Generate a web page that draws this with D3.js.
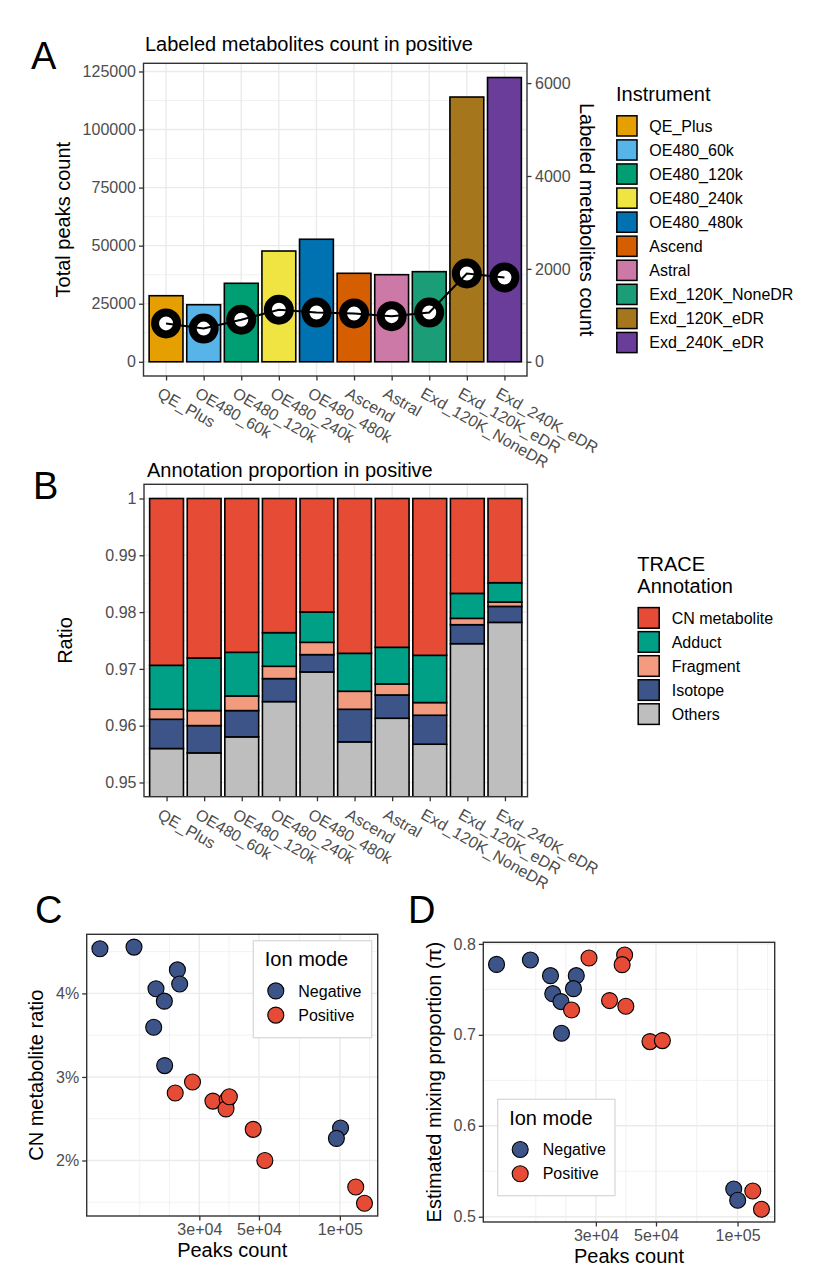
<!DOCTYPE html>
<html><head><meta charset="utf-8">
<script src="https://cdn.jsdelivr.net/npm/d3@7"></script>
<style>
body{margin:0;background:#fff}
svg{display:block}
text{font-family:"Liberation Sans",Arial,Helvetica,sans-serif}
</style>
</head><body>
<svg id="chart" width="830" height="1284"></svg>
<script>
// ---------------- DATA ----------------
const instruments = ["QE_Plus","OE480_60k","OE480_120k","OE480_240k","OE480_480k","Ascend","Astral","Exd_120K_NoneDR","Exd_120K_eDR","Exd_240K_eDR"];
const instrumentColors = ["#E69F00","#56B4E9","#009E73","#F0E442","#0072B2","#D55E00","#CC79A7","#1B9E77","#A6761D","#6A3D9A"];
const totalPeaks = [28450, 24570, 33800, 47700, 52760, 38100, 37500, 38800, 114000, 122400];
const labeledMetabolites = [826, 715, 905, 1120, 1060, 1041, 983, 1060, 1901, 1815];
const peaksTicks = [0, 25000, 50000, 75000, 100000, 125000];
const labeledTicks = [0, 2000, 4000, 6000];
const secAxisFactor = 20;

const annotationTypes = ["CN metabolite","Adduct","Fragment","Isotope","Others"];
const annotationColors = ["#E64B35","#00A087","#F39B7F","#3C5488","#BEBEBE"];
const cnMetabolite = [0.02937, 0.02808, 0.02708, 0.02362, 0.01999, 0.02726, 0.02620, 0.02761, 0.01671, 0.01483];
const adduct       = [0.00773, 0.00926, 0.00768, 0.00592, 0.00533, 0.00668, 0.00645, 0.00832, 0.00439, 0.00340];
const fragment     = [0.00177, 0.00264, 0.00258, 0.00217, 0.00217, 0.00317, 0.00194, 0.00223, 0.00112, 0.00077];
const isotope      = [0.00515, 0.00481, 0.00463, 0.00405, 0.00305, 0.00574, 0.00410, 0.00510, 0.00334, 0.00281];
const others       = [0.95598, 0.95521, 0.95803, 0.96424, 0.96946, 0.95715, 0.96131, 0.95674, 0.97444, 0.97819];
const ratioTicks = [0.95, 0.96, 0.97, 0.98, 0.99, 1];
const ratioLimits = [0.95, 1];

const ionModes = ["Negative","Positive"];
const ionColors = ["#3C5488","#E64B35"];
const negPeaksC = [12800, 17140, 24860, 25350, 20690, 22230, 20290, 22290, 100600, 97100];
const negCN     = [0.04534, 0.04554, 0.04281, 0.04112, 0.04056, 0.03907, 0.03594, 0.03136, 0.02389, 0.02265];
const posPeaksC = [28300, 24400, 33700, 38100, 37700, 38800, 47600, 52600, 114600, 123500];
const posCN     = [0.02940, 0.02807, 0.02711, 0.02726, 0.02618, 0.02763, 0.02373, 0.02000, 0.01682, 0.01489];
const negPeaksD = [12900, 17200, 20400, 25400, 20800, 24800, 22300, 22400, 96800, 100100];
const negPi     = [0.7775, 0.7823, 0.7651, 0.7651, 0.7453, 0.7508, 0.7366, 0.7018, 0.5305, 0.5181];
const posPeaksD = [28300, 24400, 33700, 47500, 52800, 38300, 37500, 38700, 113800, 122500];
const posPi     = [0.7845, 0.7274, 0.7377, 0.6926, 0.6937, 0.7878, 0.7772, 0.7314, 0.5283, 0.5082];
const peaksLogTicks = [3e4, 5e4, 1e5];
const peaksLogLabels = ["3e+04", "5e+04", "1e+05"];
const cnTicks = [0.02, 0.03, 0.04];
const piTicks = [0.5, 0.6, 0.7, 0.8];

// ---------------- HELPERS ----------------
const svg = d3.select("#chart");
const FONT = '"Liberation Sans", Arial, Helvetica, sans-serif';
const GRID = "#EBEBEB", BORDER = "#333333", TICKTXT = "#4D4D4D";

function expand(ext, mult = 0.05) { const r = ext[1] - ext[0]; return [ext[0] - r * mult, ext[1] + r * mult]; }

// ggplot-style regular minor breaks (in transformed space)
function minorBreaks(majors, domain, tf = v => v, inv = v => v) {
  const lim = domain.map(tf).sort((a, b) => a - b);
  let b = majors.map(tf).filter(v => v >= lim[0] - 1e-12 && v <= lim[1] + 1e-12).sort((a, c) => a - c);
  if (b.length < 2) return [];
  const bd = b[1] - b[0];
  if (lim[0] < b[0]) b.unshift(b[0] - bd);
  if (lim[1] > b[b.length - 1]) b.push(b[b.length - 1] + bd);
  const out = [];
  for (let i = 0; i < b.length - 1; i++) for (let j = 0; j < 2; j++) out.push(b[i] + (b[i + 1] - b[i]) * j / 2);
  out.push(b[b.length - 1]);
  const maj = majors.map(tf);
  return out.filter(v => v >= lim[0] && v <= lim[1] && !maj.some(m => Math.abs(m - v) < 1e-9)).map(inv);
}

function styleAxis(g, size = 16) {
  g.select(".domain").remove();
  g.selectAll(".tick line").attr("stroke", BORDER).attr("stroke-width", 1.3);
  g.selectAll(".tick text").attr("fill", TICKTXT).style("font-size", size + "px").style("font-family", FONT);
}

function hLines(g, box, ys, w) {
  g.selectAll(null).data(ys).join("line")
    .attr("x1", box.l).attr("x2", box.r).attr("y1", d => d).attr("y2", d => d)
    .attr("stroke", GRID).attr("stroke-width", w);
}
function vLines(g, box, xs, w) {
  g.selectAll(null).data(xs).join("line")
    .attr("y1", box.t).attr("y2", box.b).attr("x1", d => d).attr("x2", d => d)
    .attr("stroke", GRID).attr("stroke-width", w);
}
function border(g, box) {
  g.append("rect").attr("x", box.l).attr("y", box.t).attr("width", box.r - box.l).attr("height", box.b - box.t)
    .attr("fill", "none").attr("stroke", BORDER).attr("stroke-width", 1.4);
}
function label(x, y, txt, size, opts = {}) {
  const t = svg.append("text").attr("x", x).attr("y", y).text(txt)
    .style("font-size", size + "px").attr("fill", opts.fill || "#000");
  if (opts.anchor) t.attr("text-anchor", opts.anchor);
  if (opts.rotate != null) t.attr("x", 0).attr("y", 0).attr("transform", `translate(${x},${y}) rotate(${opts.rotate})`);
  return t;
}
function clip(id, box) {
  svg.append("clipPath").attr("id", id).append("rect")
    .attr("x", box.l).attr("y", box.t).attr("width", box.r - box.l).attr("height", box.b - box.t);
}

// ---------------- PANEL A ----------------
const boxA = { l: 143.5, r: 527, t: 63.3, b: 376 };
const gA = svg.append("g");
const xA = d3.scalePoint().domain(instruments).range([boxA.l, boxA.r]).padding(0.6);
const barWA = xA.step() * 0.9;
const yA = d3.scaleLinear().domain(expand([0, d3.max(totalPeaks)])).range([boxA.b, boxA.t]);
const yA2 = d3.scaleLinear().domain(yA.domain().map(v => v / secAxisFactor)).range(yA.range());

hLines(gA, boxA, minorBreaks(peaksTicks, yA.domain()).map(yA), 0.7);
hLines(gA, boxA, peaksTicks.map(yA), 1.4);
vLines(gA, boxA, instruments.map(xA), 1.4);

gA.selectAll("rect.bar").data(instruments).join("rect").attr("class", "bar")
  .attr("x", d => xA(d) - barWA / 2).attr("width", barWA)
  .attr("y", (d, i) => yA(totalPeaks[i])).attr("height", (d, i) => yA(0) - yA(totalPeaks[i]))
  .attr("fill", (d, i) => instrumentColors[i]).attr("stroke", "#000").attr("stroke-width", 1.6);

gA.selectAll("circle.pt").data(labeledMetabolites).join("circle").attr("class", "pt")
  .attr("cx", (d, i) => xA(instruments[i])).attr("cy", d => yA2(d)).attr("r", 11)
  .attr("fill", "#fff").attr("stroke", "#000").attr("stroke-width", 8);
gA.append("path").datum(labeledMetabolites)
  .attr("d", d3.line().x((d, i) => xA(instruments[i])).y(d => yA2(d)))
  .attr("fill", "none").attr("stroke", "#000").attr("stroke-width", 2);
border(gA, boxA);

gA.append("g").attr("transform", `translate(${boxA.l},0)`)
  .call(d3.axisLeft(yA).tickValues(peaksTicks).tickFormat(d3.format("d")).tickSize(4.5).tickPadding(3)).call(g => styleAxis(g));
gA.append("g").attr("transform", `translate(${boxA.r},0)`)
  .call(d3.axisRight(yA2).tickValues(labeledTicks).tickFormat(d3.format("d")).tickSize(4.5).tickPadding(3.5)).call(g => styleAxis(g));
gA.append("g").attr("transform", `translate(0,${boxA.b})`)
  .call(d3.axisBottom(xA).tickSize(4.5)).call(g => styleAxis(g))
  .call(g => g.selectAll(".tick text").attr("text-anchor", "start").attr("x", 1.4).attr("y", 11.5).attr("dy", "0.71em").attr("transform", "rotate(30)"));

label(145, 50.5, "Labeled metabolites count in positive", 20);
label(70, (boxA.t + boxA.b) / 2, "Total peaks count", 20, { anchor: "middle", rotate: -90 });
label(580, (boxA.t + boxA.b) / 2, "Labeled metabolites count", 20, { anchor: "middle", rotate: 90 });
label(31, 69, "A", 38);

// legend A
label(616, 100.7, "Instrument", 20);
const legA = svg.append("g");
legA.selectAll("rect").data(instruments).join("rect")
  .attr("x", 616.8).attr("y", (d, i) => 115.8 + i * 24.07).attr("width", 20.2).attr("height", 20.2)
  .attr("fill", (d, i) => instrumentColors[i]).attr("stroke", "#000").attr("stroke-width", 1.5);
legA.selectAll("text").data(instruments).join("text")
  .attr("x", 649.3).attr("y", (d, i) => 126 + i * 24.07 + 5.7).text(d => d).style("font-size", "16px");

// ---------------- PANEL B ----------------
const boxB = { l: 144, r: 527.5, t: 484.3, b: 796.7 };
const gB = svg.append("g");
const xB = d3.scalePoint().domain(instruments).range([boxB.l, boxB.r]).padding(0.6);
const barWB = xB.step() * 0.9;
const yB = d3.scaleLinear().domain(expand(ratioLimits)).range([boxB.b, boxB.t]);

hLines(gB, boxB, minorBreaks(ratioTicks, yB.domain()).map(yB), 0.7);
hLines(gB, boxB, ratioTicks.map(yB), 1.4);
vLines(gB, boxB, instruments.map(xB), 1.4);

const rowsB = instruments.map((d, i) => ({
  inst: d, "Others": others[i], "Isotope": isotope[i], "Fragment": fragment[i], "Adduct": adduct[i], "CN metabolite": cnMetabolite[i]
}));
const stackKeys = annotationTypes.slice().reverse();
const stacked = d3.stack().keys(stackKeys)(rowsB);
clip("clipB", boxB);
const barsB = gB.append("g").attr("clip-path", "url(#clipB)");
stacked.forEach(layer => {
  const col = annotationColors[annotationTypes.indexOf(layer.key)];
  barsB.selectAll(null).data(layer).join("rect")
    .attr("x", d => xB(d.data.inst) - barWB / 2).attr("width", barWB)
    .attr("y", d => yB(d[1])).attr("height", d => yB(d[0]) - yB(d[1]))
    .attr("fill", col).attr("stroke", "#000").attr("stroke-width", 1.6);
});
border(gB, boxB);

gB.append("g").attr("transform", `translate(${boxB.l},0)`)
  .call(d3.axisLeft(yB).tickValues(ratioTicks).tickFormat(d => String(d)).tickSize(4.5).tickPadding(3)).call(g => styleAxis(g));
gB.append("g").attr("transform", `translate(0,${boxB.b})`)
  .call(d3.axisBottom(xB).tickSize(4.5)).call(g => styleAxis(g))
  .call(g => g.selectAll(".tick text").attr("text-anchor", "start").attr("x", 1.4).attr("y", 12).attr("dy", "0.71em").attr("transform", "rotate(30)"));

label(147, 476.7, "Annotation proportion in positive", 20);
label(71.5, (boxB.t + boxB.b) / 2, "Ratio", 20, { anchor: "middle", rotate: -90 });
label(33, 499.3, "B", 38);

// legend B
label(637.3, 570.7, "TRACE", 20);
label(637.3, 592.7, "Annotation", 20);
const legB = svg.append("g");
legB.selectAll("rect").data(annotationTypes).join("rect")
  .attr("x", 638.2).attr("y", (d, i) => 607.6 + i * 24.05).attr("width", 21).attr("height", 20.6)
  .attr("fill", (d, i) => annotationColors[i]).attr("stroke", "#000").attr("stroke-width", 1.5);
legB.selectAll("text").data(annotationTypes).join("text")
  .attr("x", 671.7).attr("y", (d, i) => 618 + i * 24.05 + 5.7).text(d => d).style("font-size", "16px");

// ---------------- PANELS C & D ----------------
function scatterPanel(box, negX, negY, posX, posY, yTicks, yFmt, yTitle, yTitleX, leg, letter) {
  const g = svg.append("g");
  const allX = negX.concat(posX), allY = negY.concat(posY);
  const lx = expand(d3.extent(allX).map(Math.log10));
  const x = d3.scaleLog().domain(lx.map(v => Math.pow(10, v))).range([box.l, box.r]);
  const y = d3.scaleLinear().domain(expand(d3.extent(allY))).range([box.b, box.t]);

  hLines(g, box, minorBreaks(yTicks, y.domain()).map(y), 0.7);
  vLines(g, box, minorBreaks(peaksLogTicks, x.domain(), Math.log10, v => Math.pow(10, v)).map(x), 0.7);
  hLines(g, box, yTicks.map(y), 1.4);
  vLines(g, box, peaksLogTicks.map(x), 1.4);

  const series = [[negX, negY, ionColors[0]], [posX, posY, ionColors[1]]];
  series.forEach(([xs, ys, col]) => {
    g.selectAll(null).data(xs).join("circle")
      .attr("cx", d => x(d)).attr("cy", (d, i) => y(ys[i])).attr("r", 8)
      .attr("fill", col).attr("stroke", "#000").attr("stroke-width", 1.1);
  });
  border(g, box);

  g.append("g").attr("transform", `translate(${box.l},0)`)
    .call(d3.axisLeft(y).tickValues(yTicks).tickFormat(yFmt).tickSize(4.5).tickPadding(3)).call(a => styleAxis(a));
  g.append("g").attr("transform", `translate(0,${box.b})`)
    .call(d3.axisBottom(x).tickValues(peaksLogTicks).tickFormat((d, i) => peaksLogLabels[i]).tickSize(4.5).tickPadding(3.2)).call(a => styleAxis(a));

  label((box.l + box.r) / 2, box.b + 40.7, "Peaks count", 20, { anchor: "middle" });
  label(yTitleX, (box.t + box.b) / 2, yTitle, 20, { anchor: "middle", rotate: -90 });
  label(letter.x, letter.y, letter.t, 38);

  // legend
  const lg = svg.append("g");
  lg.append("rect").attr("x", leg.x).attr("y", leg.y).attr("width", leg.w).attr("height", leg.h)
    .attr("fill", "#fff").attr("stroke", "#D9D9D9").attr("stroke-width", 1.3);
  lg.append("text").attr("x", leg.x + 11.5).attr("y", leg.y + 25.5).text("Ion mode").style("font-size", "20px");
  lg.selectAll("circle").data(ionModes).join("circle")
    .attr("cx", leg.x + 22.5).attr("cy", (d, i) => leg.y + 50.2 + i * 24.2).attr("r", 8)
    .attr("fill", (d, i) => ionColors[i]).attr("stroke", "#000").attr("stroke-width", 1.1);
  lg.selectAll("text.k").data(ionModes).join("text").attr("class", "k")
    .attr("x", leg.x + 45).attr("y", (d, i) => leg.y + 50.2 + i * 24.2 + 5.7).text(d => d).style("font-size", "16px");
}

scatterPanel({ l: 86.7, r: 377.7, t: 934.3, b: 1216 }, negPeaksC, negCN, posPeaksC, posCN,
  cnTicks, d3.format(".0%"), "CN metabolite ratio", 43,
  { x: 253.3, y: 940.7, w: 118.4, h: 97 }, { x: 35, y: 922.5, t: "C" });

scatterPanel({ l: 483.3, r: 774.7, t: 942.3, b: 1222 }, negPeaksD, negPi, posPeaksD, posPi,
  piTicks, d3.format(".1f"), "Estimated mixing proportion (\u03C0)", 441,
  { x: 497.7, y: 1099.3, w: 117.3, h: 96.4 }, { x: 408, y: 922.5, t: "D" });
</script>
</body></html>
